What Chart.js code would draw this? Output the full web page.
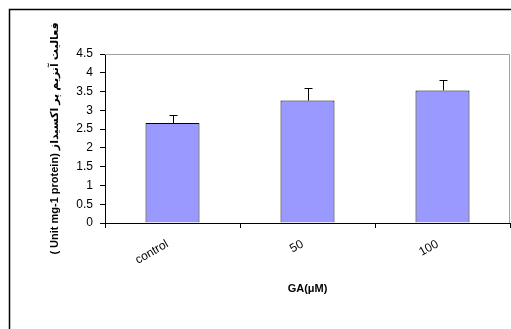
<!DOCTYPE html>
<html>
<head>
<meta charset="utf-8">
<script src="https://cdn.jsdelivr.net/npm/chart.js@4/dist/chart.umd.min.js"></script>
<style>
  html, body { margin: 0; padding: 0; background: #fff; }
  #wrap { width: 511px; height: 329px; }
</style>
</head>
<body>
<div id="wrap"><canvas id="c" width="511" height="329"></canvas></div>
<script>
// Peroxidase activity by GA treatment
const categories = ['control', '50', '100'];
const meanActivity = [2.66, 3.26, 3.53];
const stdError = [0.22, 0.34, 0.29];
const yTicks = [0, 0.5, 1, 1.5, 2, 2.5, 3, 3.5, 4, 4.5];

const FONT = '"Liberation Sans", Arial, "DejaVu Sans", sans-serif';

// Upward error bars with a small cap
const errorBars = {
  id: 'errorBars',
  afterDatasetsDraw(chart) {
    const { ctx, scales: { y } } = chart;
    const meta = chart.getDatasetMeta(0);
    ctx.save();
    ctx.strokeStyle = '#000';
    ctx.lineWidth = 1;
    meta.data.forEach((bar, i) => {
      const cx = Math.round(bar.x) + 0.5;
      const yTop = y.getPixelForValue(meanActivity[i]);
      const yErr = Math.round(y.getPixelForValue(meanActivity[i] + stdError[i])) + 0.5;
      ctx.beginPath();
      ctx.moveTo(cx, yTop);
      ctx.lineTo(cx, yErr);
      ctx.moveTo(cx - 4, yErr);
      ctx.lineTo(cx + 4, yErr);
      ctx.stroke();
    });
    ctx.restore();
  }
};

// Gray top/right edge of the plot area and the outer frame
const frames = {
  id: 'frames',
  beforeDatasetsDraw(chart) {
    const { ctx, chartArea: a } = chart;
    ctx.save();
    ctx.strokeStyle = '#a0a0a0';
    ctx.lineWidth = 1;
    ctx.beginPath();
    ctx.moveTo(a.left, a.top + 0.5);
    ctx.lineTo(a.right - 0.5, a.top + 0.5);
    ctx.lineTo(a.right - 0.5, a.bottom);
    ctx.stroke();
    ctx.strokeStyle = '#000';
    ctx.lineWidth = 1.5;
    ctx.beginPath();
    ctx.moveTo(9.5, 329);
    ctx.lineTo(9.5, 9.5);
    ctx.lineTo(511, 9.5);
    ctx.stroke();
    ctx.restore();
  }
};

new Chart(document.getElementById('c'), {
  type: 'bar',
  data: {
    labels: categories,
    datasets: [{
      data: meanActivity,
      backgroundColor: '#9999FF',
      borderColor: '#000',
      borderWidth: 1,
      barPercentage: 0.8,
      categoryPercentage: 0.5
    }]
  },
  options: {
    responsive: false,
    animation: false,
    devicePixelRatio: 1,
    layout: { padding: { left: 0, top: 54, right: 1, bottom: 0 } },
    plugins: { legend: { display: false }, tooltip: { enabled: false } },
    scales: {
      x: {
        offset: true,
        grid: { offset: true, drawOnChartArea: false, drawTicks: true, tickLength: 5, color: '#000' },
        border: { display: true, color: '#000', width: 1 },
        ticks: {
          color: '#000', font: { family: FONT, size: 12 },
          minRotation: 30, maxRotation: 30, padding: 9, labelOffset: -5
        },
        title: {
          display: true, text: 'GA(μM)', color: '#000',
          font: { family: FONT, size: 11, weight: 'bold' },
          padding: { top: 0, bottom: 33 }
        },
        afterFit(s) { s.height = 106; }
      },
      y: {
        min: 0, max: 4.5,
        afterBuildTicks(s) { s.ticks = yTicks.map(v => ({ value: v })); },
        grid: { drawOnChartArea: false, drawTicks: true, tickLength: 5, color: '#000' },
        border: { display: true, color: '#000', width: 1 },
        ticks: {
          color: '#000', font: { family: FONT, size: 12 }, padding: 7,
          callback: v => String(v)
        },
        title: {
          display: true, text: '( Unit mg-1 protein) فعالیت آنزیم پر اکسیداز', color: '#000',
          font: { family: FONT, size: 11, weight: 'bold' },
          padding: { top: 48, bottom: 0 }
        },
        afterFit(s) { s.width = 105; }
      }
    }
  },
  plugins: [frames, errorBars]
});
</script>
</body>
</html>
